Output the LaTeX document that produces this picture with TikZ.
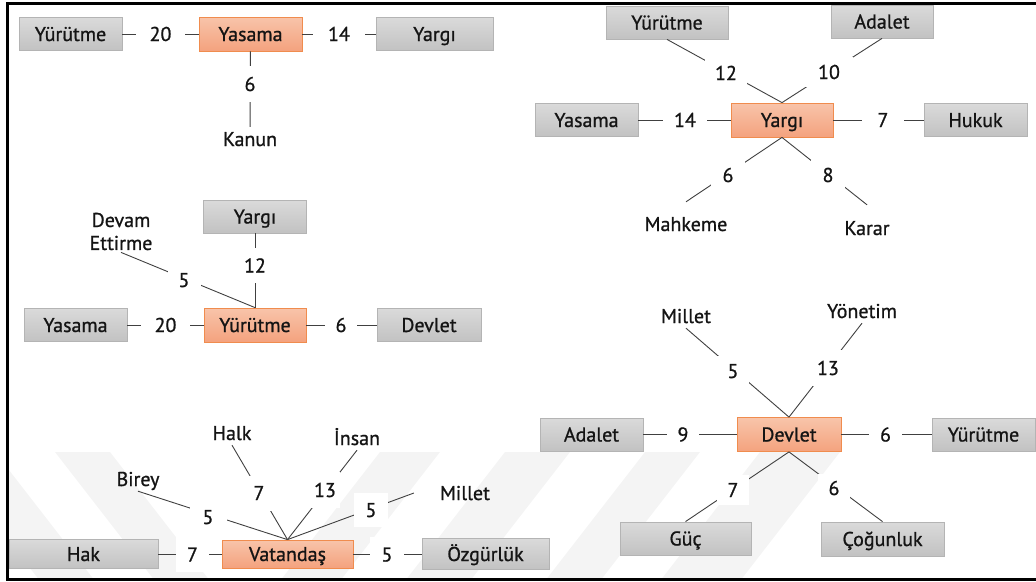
\documentclass[tikz,border=0pt]{standalone}
\usepackage{fontspec}
\setmainfont{PT Sans}[FakeBold=0.9]
\definecolor{boxgraytop}{HTML}{DADADA}
\definecolor{boxgraybot}{HTML}{C2C2C2}
\definecolor{boxgrayline}{HTML}{B4B4B4}
\definecolor{boxorgtop}{HTML}{F8C4AA}
\definecolor{boxorgbot}{HTML}{F4A27E}
\definecolor{boxorgline}{HTML}{F08C4E}
\definecolor{linkgray}{HTML}{404040}
\definecolor{wmark}{HTML}{F4F4F4}
\begin{document}
\begin{tikzpicture}[x=1pt,y=-1pt,
  every node/.style={font=\fontsize{20}{23}\selectfont, text=black!92},
  graybox/.style={draw=boxgrayline, line width=0.8pt, top color=boxgraytop,
    bottom color=boxgraybot, minimum width=#1, minimum height=33pt,
    inner sep=0pt, text height=14pt, text depth=0pt},
  graybox/.default=103pt,
  orangebox/.style={draw=boxorgline, line width=0.8pt, top color=boxorgtop,
    bottom color=boxorgbot, minimum width=#1, minimum height=34pt,
    inner sep=0pt, text height=14pt, text depth=0pt},
  orangebox/.default=103pt,
  term/.style={inner sep=5pt, text height=14pt, text depth=0pt},
  lbl/.style 2 args={fill=white, inner sep=0pt, minimum width=#1,
    minimum height=#2, text height=14pt, text depth=0pt},
  link/.style={draw=linkgray, line width=0.9pt}
]
\useasboundingbox (0,0) rectangle (1036,581);

% faint background stripes
\begin{scope}
  \clip (8,452) rectangle (1036,578);
  \fill[wmark] (55,452) -- (110,452) -- (210,581) -- (155,581) -- cycle;
  \fill[wmark] (-60,452) -- (-5,452) -- (95,581) -- (40,581) -- cycle;
  \fill[wmark] (380,452) -- (440,452) -- (340,581) -- (280,581) -- cycle;
  \fill[wmark] (505,452) -- (570,452) -- (470,581) -- (405,581) -- cycle;
  \fill[wmark] (645,452) -- (700,452) -- (600,581) -- (545,581) -- cycle;
  \fill[wmark] (760,452) -- (840,452) -- (740,581) -- (660,581) -- cycle;
\end{scope}

% frame
\draw[line width=3pt] (1045,3) -- (7,3) -- (7,579.5) -- (1045,579.5);

% ---------- Yasama ----------
\node[graybox] (yurutmeA) at (70.5,34) {Yürütme};
\node[orangebox] (yasamaA) at (250.5,34) {Yasama};
\node[graybox=117pt] (yargiA) at (434.5,34) {Yargı};
\node[term] (kanunA) at (250,139) {Kanun};
\draw[link] (yasamaA) -- (yurutmeA);
\draw[link] (yasamaA) -- (yargiA);
\draw[link] (yasamaA) -- (kanunA);
\node[lbl={49pt}{30pt}] (wA1) at (160.5,34) {20};
\node[lbl={52pt}{30pt}] (wA2) at (339,34) {14};
\node[lbl={30pt}{36pt}] (wA3) at (250,84) {6};

% ---------- Yargı ----------
\node[orangebox=102pt] (yargiB) at (782,120) {Yargı};
\node[graybox=122pt] (yurutmeB) at (667,22.5) {Yürütme};
\node[graybox=102pt] (adaletB) at (882,21.5) {Adalet};
\node[graybox] (yasamaB) at (586.5,120) {Yasama};
\node[graybox] (hukukB) at (975.5,120) {Hukuk};
\node[term] (mahkemeB) at (686,224) {Mahkeme};
\node[term] (kararB) at (867,228) {Karar};
\draw[link] (yargiB) -- (yasamaB);
\draw[link] (yargiB) -- (hukukB);
\draw[link] (yargiB.north) -- (yurutmeB.south);
\draw[link] (yargiB.north) -- (adaletB.south);
\draw[link] (yargiB.south) -- ([yshift=10pt]mahkemeB.north);
\draw[link] (yargiB.south) -- ([yshift=11pt]kararB.north);
\node[lbl={44pt}{30pt}] (wB1) at (685,120) {14};
\node[lbl={42pt}{30pt}] (wB2) at (883,120) {7};
\node[lbl={42pt}{28pt}] (wB3) at (726,73) {12};
\node[lbl={48pt}{30pt}] (wB4) at (829,72) {10};
\node[lbl={34pt}{28pt}] (wB5) at (728,175) {6};
\node[lbl={34pt}{30pt}] (wB6) at (828,175) {8};

% ---------- Yürütme ----------
\node[orangebox=102pt] (yurutmeC) at (255,325) {Yürütme};
\node[graybox] (yargiC) at (255,216.5) {Yargı};
\node[graybox] (yasamaC) at (75.5,325) {Yasama};
\node[graybox=104pt] (devletC) at (429,325) {Devlet};
\node[align=center, inner sep=2pt] (devamC) at (121,231.5) {Devam\\Ettirme};
\draw[link] (yurutmeC) -- (yargiC);
\draw[link] (yurutmeC) -- (yasamaC);
\draw[link] (yurutmeC) -- (devletC);
\draw[link] (yurutmeC.north) -- (devamC.south);
\node[lbl={49pt}{30pt}] (wC1) at (165.5,325) {20};
\node[lbl={32pt}{30pt}] (wC2) at (341,325) {6};
\node[lbl={30pt}{35pt}] (wC3) at (255,265.5) {12};
\node[lbl={33pt}{28pt}] (wC4) at (184,280) {5};

% ---------- Vatandaş ----------
\node[orangebox=131pt, minimum height=28pt] (vatandasD) at (287.5,554) {Vatandaş};
\node[graybox=149pt, minimum height=29pt] (hakD) at (83.5,554) {Hak};
\node[graybox=127pt, minimum height=31pt] (ozgurlukD) at (485.5,554) {Özgürlük};
\node[term] (bireyD) at (138,479) {Birey};
\node[term] (halkD) at (232,433) {Halk};
\node[term] (insanD) at (357,438) {İnsan};
\node[term] (milletD) at (465,493) {Millet};
\draw[link] (vatandasD) -- (hakD);
\draw[link] (vatandasD) -- (ozgurlukD);
\draw[link] (vatandasD.north) -- (bireyD.south);
\draw[link] (vatandasD.north) -- (halkD.south);
\draw[link] (vatandasD.north) -- (insanD.south);
\draw[link] (vatandasD.north) -- ([xshift=-21pt]milletD.west);
\node[lbl={33pt}{35pt}] (wD1) at (192.5,554.5) {7};
\node[lbl={34pt}{35pt}] (wD2) at (387,554.5) {5};
\node[lbl={37pt}{30pt}] (wD3) at (208,517) {5};
\node[lbl={30pt}{35pt}] (wD4) at (259,493) {7};
\node[lbl={30pt}{36pt}] (wD5) at (325,490) {13};
\node[lbl={34pt}{34pt}] (wD6) at (371,510) {5};

% ---------- Devlet ----------
\node[orangebox=104pt] (devletE) at (789,434.5) {Devlet};
\node[graybox] (adaletE) at (591.5,434.5) {Adalet};
\node[graybox] (yurutmeE) at (983.5,434.5) {Yürütme};
\node[graybox=131pt] (gucE) at (685.5,538.5) {Güç};
\node[graybox=123pt, minimum height=34pt] (cogunlukE) at (882.5,539) {Çoğunluk};
\node[term] (milletE) at (686,316) {Millet};
\node[term] (yonetimE) at (862,311) {Yönetim};
\draw[link] (devletE) -- (adaletE);
\draw[link] (devletE) -- (yurutmeE);
\draw[link] (devletE.north) -- (milletE.south);
\draw[link] (devletE.north) -- (yonetimE.south);
\draw[link] (devletE.south) -- (gucE.north);
\draw[link] (devletE.south) -- (cogunlukE.north);
\node[lbl={32pt}{30pt}] (wE1) at (683,434.5) {9};
\node[lbl={33pt}{30pt}] (wE2) at (885.5,434.5) {6};
\node[lbl={32pt}{30pt}] (wE3) at (733,371) {5};
\node[lbl={34pt}{36pt}] (wE4) at (828,368) {13};
\node[lbl={32pt}{30pt}] (wE5) at (733,490) {7};
\node[lbl={32pt}{28pt}] (wE6) at (834,488) {6};
\end{tikzpicture}
\end{document}
